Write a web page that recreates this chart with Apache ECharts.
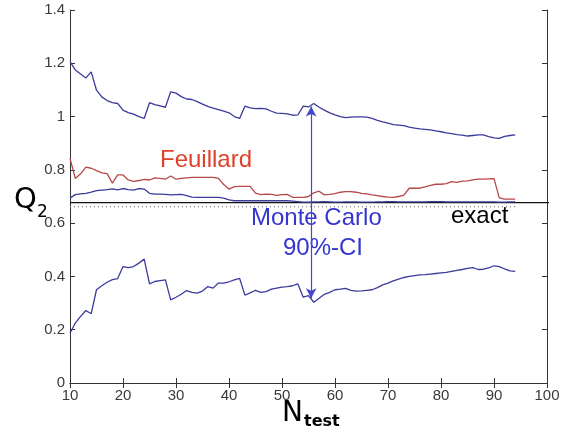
<!DOCTYPE html>
<html>
<head>
<meta charset="utf-8">
<title>Q2 vs Ntest</title>
<script src="https://cdn.jsdelivr.net/npm/echarts@6/dist/echarts.min.js"></script>
<style>
  html, body { margin: 0; padding: 0; background: #fff; }
</style>
</head>
<body>
	<div id="main" style="width: 567px; height: 435px;"></div>

	<script type="text/javascript">
		// N_test values, 10 .. 94
		var nTest = [];
		for (var n = 10; n <= 94; n++) nTest.push(n);

		// upper bound of Monte Carlo 90%-CI
		var mcUpper = [1.206, 1.175, 1.16, 1.145, 1.168, 1.099, 1.074, 1.06, 1.052, 1.049,
			1.024, 1.015, 1.009, 1.0, 0.993, 1.052, 1.045, 1.04, 1.035, 1.093,
			1.088, 1.075, 1.066, 1.064, 1.056, 1.047, 1.038, 1.032, 1.026, 1.02,
			1.014, 1.0, 0.993, 1.039, 1.033, 1.03, 1.031, 1.029, 1.02, 1.013,
			1.012, 1.01, 1.005, 1.006, 1.039, 1.036, 1.049, 1.035, 1.024, 1.014,
			1.006, 1.0, 0.996, 0.998, 0.999, 0.999, 0.998, 0.993, 0.986, 0.98,
			0.975, 0.97, 0.968, 0.966, 0.96, 0.957, 0.954, 0.952, 0.95, 0.946,
			0.943, 0.939, 0.936, 0.932, 0.93, 0.927, 0.929, 0.931, 0.931, 0.925,
			0.92, 0.918, 0.926, 0.929, 0.931];

		// lower bound of Monte Carlo 90%-CI
		var mcLower = [0.187, 0.225, 0.25, 0.272, 0.26, 0.35, 0.365, 0.378, 0.388, 0.392,
			0.437, 0.433, 0.437, 0.45, 0.465, 0.372, 0.381, 0.384, 0.387, 0.312,
			0.322, 0.333, 0.347, 0.34, 0.337, 0.345, 0.362, 0.356, 0.375, 0.375,
			0.38, 0.387, 0.393, 0.33, 0.338, 0.348, 0.34, 0.343, 0.352, 0.356,
			0.36, 0.362, 0.365, 0.372, 0.322, 0.328, 0.303, 0.318, 0.333, 0.34,
			0.35, 0.352, 0.355, 0.348, 0.345, 0.346, 0.348, 0.35, 0.358, 0.368,
			0.375, 0.383, 0.39, 0.396, 0.4, 0.403, 0.406, 0.407, 0.409, 0.411,
			0.413, 0.415, 0.419, 0.423, 0.426, 0.43, 0.433, 0.426, 0.427, 0.432,
			0.44, 0.437, 0.428, 0.421, 0.419];

		// Monte Carlo estimate
		var mcMean = [0.694, 0.707, 0.71, 0.712, 0.716, 0.722, 0.724, 0.726, 0.729, 0.725,
			0.73, 0.726, 0.724, 0.73, 0.728, 0.712, 0.709, 0.709, 0.708, 0.706,
			0.707, 0.708, 0.703, 0.698, 0.697, 0.697, 0.697, 0.697, 0.697, 0.694,
			0.687, 0.684, 0.684, 0.684, 0.684, 0.684, 0.684, 0.684, 0.684, 0.684,
			0.684, 0.684, 0.683, 0.681, 0.679, 0.679, 0.68, 0.68, 0.681, 0.68,
			0.679, 0.679, 0.68, 0.68, 0.68, 0.679, 0.679, 0.679, 0.68, 0.68,
			0.681, 0.681, 0.68, 0.68, 0.68, 0.68, 0.68, 0.68, 0.681, 0.681,
			0.681, 0.68, 0.68, 0.68, 0.68, 0.68, 0.68, 0.68, 0.68, 0.68,
			0.68, 0.679, 0.679, 0.68, 0.68];

		// Feuillard estimate
		var feuillard = [0.843, 0.768, 0.785, 0.81, 0.806, 0.797, 0.789, 0.786, 0.75, 0.781,
			0.781, 0.762, 0.757, 0.76, 0.764, 0.762, 0.77, 0.768, 0.765, 0.777,
			0.765, 0.768, 0.77, 0.772, 0.772, 0.772, 0.772, 0.772, 0.768, 0.745,
			0.728, 0.737, 0.738, 0.738, 0.738, 0.713, 0.707, 0.709, 0.708, 0.704,
			0.707, 0.708, 0.697, 0.697, 0.697, 0.7, 0.714, 0.72, 0.706, 0.708,
			0.711, 0.716, 0.718, 0.718, 0.716, 0.712, 0.71, 0.706, 0.703, 0.7,
			0.698, 0.697, 0.7, 0.705, 0.731, 0.731, 0.731, 0.736, 0.742, 0.746,
			0.746, 0.748, 0.756, 0.753, 0.758, 0.759, 0.762, 0.765, 0.765, 0.766,
			0.767, 0.695, 0.69, 0.69, 0.69];

		var exactQ2 = 0.677;      // solid black line
		var refDotted = 0.662;    // dotted line
		var exactX = [10, 101.8];
		var arrowN = 55.5;
		var arrowRange = [0.318, 1.038];

		var xTicks = [10, 100, 10];     // min, max, interval
		var yTicks = [0, 1.4, 0.2];

		function pairs(xs, ys) {
			return xs.map(function (x, i) { return [x, ys[i]]; });
		}

		var myChart = echarts.init(document.getElementById('main'));

		var blue = '#3b3b9c';
		var axisCol = '#333';
		var font = '"Liberation Sans", Arial, sans-serif';

		option = {
			animation: false,
			grid: { left: 70, right: 20, top: 10, bottom: 52 },
			xAxis: [{
				type: 'value', min: xTicks[0], max: xTicks[1], interval: xTicks[2],
				axisLine: { lineStyle: { color: axisCol, width: 1 } },
				axisTick: { inside: true, length: 5, lineStyle: { color: axisCol } },
				axisLabel: { color: '#3a3a3a', fontSize: 15, fontFamily: font, margin: 5 },
				splitLine: { show: false }
			}, {
				type: 'value', position: 'top', min: xTicks[0], max: xTicks[1], interval: xTicks[2],
				axisLine: { lineStyle: { color: axisCol, width: 1 } },
				axisTick: { inside: true, length: 5, lineStyle: { color: axisCol } },
				axisLabel: { show: false },
				splitLine: { show: false }
			}],
			yAxis: [{
				type: 'value', min: yTicks[0], max: yTicks[1], interval: yTicks[2],
				axisLine: { show: true, lineStyle: { color: axisCol, width: 1 } },
				axisTick: { show: true, inside: true, length: 5, lineStyle: { color: axisCol } },
				axisLabel: { color: '#3a3a3a', fontSize: 15, fontFamily: font, margin: 5 },
				splitLine: { show: false }
			}, {
				type: 'value', position: 'right', min: yTicks[0], max: yTicks[1], interval: yTicks[2],
				axisLine: { show: true, lineStyle: { color: axisCol, width: 1 } },
				axisTick: { show: true, inside: true, length: 5, lineStyle: { color: axisCol } },
				axisLabel: { show: false },
				splitLine: { show: false }
			}],
			series: [
				{
					name: 'dotted', type: 'line', symbol: 'none',
					data: [[nTest[0], refDotted], [nTest[nTest.length - 1], refDotted]],
					lineStyle: { color: '#888', width: 1.2, type: [1, 3] }
				},
				{
					name: 'exact', type: 'line', symbol: 'none', clip: false,
					data: [[exactX[0], exactQ2], [exactX[1], exactQ2]],
					lineStyle: { color: '#111', width: 1.3 }
				},
				{
					name: 'Feuillard', type: 'line', symbol: 'none',
					data: pairs(nTest, feuillard),
					lineStyle: { color: '#b8474a', width: 1.3 }
				},
				{
					name: 'MC mean', type: 'line', symbol: 'none',
					data: pairs(nTest, mcMean),
					lineStyle: { color: blue, width: 1.3 }
				},
				{
					name: 'MC upper', type: 'line', symbol: 'none',
					data: pairs(nTest, mcUpper),
					lineStyle: { color: blue, width: 1.3 }
				},
				{
					name: 'MC lower', type: 'line', symbol: 'none',
					data: pairs(nTest, mcLower),
					lineStyle: { color: blue, width: 1.3 },
					markLine: {
						silent: true,
						symbol: ['arrow', 'arrow'],
						symbolSize: [8, 10],
						label: { show: false },
						lineStyle: { color: '#4646cc', width: 1.2, type: 'solid' },
						data: [[{ coord: [arrowN, arrowRange[0]] }, { coord: [arrowN, arrowRange[1]] }]]
					}
				}
			],
			graphic: [
				{ type: 'text', left: 160, top: 148, style: { text: 'Feuillard', fill: '#e0402a', font: '24px ' + font } },
				{ type: 'text', left: 251, top: 206, style: { text: 'Monte Carlo', fill: '#3535d0', font: '24px ' + font } },
				{ type: 'text', left: 283, top: 236, style: { text: '90%-CI', fill: '#3535d0', font: '24px ' + font } },
				{ type: 'text', left: 451, top: 204, style: { text: 'exact', fill: '#000', font: '24px ' + font } },
				{ type: 'text', left: 14, top: 186, style: { text: 'Q', fill: '#000', font: '29px "DejaVu Sans", sans-serif' } },
				{ type: 'text', left: 37, top: 204, style: { text: '2', fill: '#000', font: '17px "DejaVu Sans", sans-serif' } },
				{ type: 'text', left: 282, top: 400, style: { text: 'N', fill: '#000', font: '28px "DejaVu Sans", sans-serif' } },
				{ type: 'text', left: 304, top: 414, style: { text: 'test', fill: '#000', font: 'bold 16px "DejaVu Sans", sans-serif' } }
			]
		};

		myChart.setOption(option);
	</script>
</body>
</html>
